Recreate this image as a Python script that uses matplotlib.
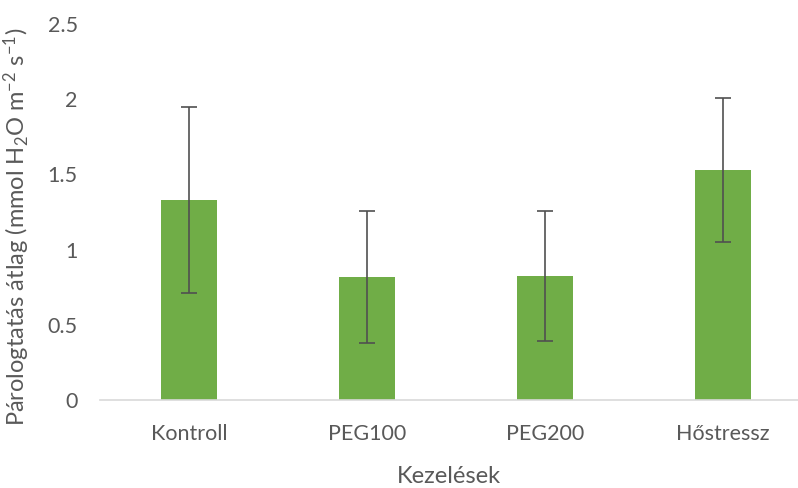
import matplotlib
matplotlib.use("Agg")
import matplotlib.pyplot as plt

# data
categories = ["Kontroll", "PEG100", "PEG200", "Hőstressz"]
means = [1.33, 0.82, 0.825, 1.53]
errors = [0.62, 0.44, 0.435, 0.48]

plt.rcParams["font.family"] = ["Lato", "DejaVu Sans"]
plt.rcParams["mathtext.fontset"] = "custom"
plt.rcParams["mathtext.rm"] = "Lato"
plt.rcParams["mathtext.it"] = "Lato"
plt.rcParams["mathtext.default"] = "regular"

text_col = "#595959"

fig = plt.figure(figsize=(7.98, 4.88), dpi=100)
ax = fig.add_axes([0.1253, 0.1803, 0.8747, 0.7705])

x = range(len(categories))
ax.bar(x, means, width=0.315, color="#70ad47", zorder=2)
ax.errorbar(x, means, yerr=errors, fmt="none", ecolor="#505050",
            elinewidth=1.2, capsize=6, capthick=1.2, zorder=3)

ax.set_xlim(-0.5, 3.42)
ax.set_ylim(0, 2.5)
ax.set_yticks([0, 0.5, 1, 1.5, 2, 2.5])
ax.set_yticklabels(["0", "0.5", "1", "1.5", "2", "2.5"])
ax.set_xticks(list(x))
ax.set_xticklabels(categories)

for s in ["top", "right", "left"]:
    ax.spines[s].set_visible(False)
ax.spines["bottom"].set_color("#d9d9d9")
ax.spines["bottom"].set_linewidth(1.2)
ax.tick_params(axis="both", length=0, labelsize=15.5, colors=text_col)
ax.tick_params(axis="y", pad=16)
ax.tick_params(axis="x", pad=17)

ax.set_xlabel("Kezelések", fontsize=17, color=text_col, labelpad=16)
ax.set_ylabel(r"Párologtatás átlag (mmol H$_2$O m$^{-2}$ s$^{-1}$)",
              fontsize=17, color=text_col)
ax.yaxis.set_label_coords(-0.097, 0.46)

fig.savefig("out.png", dpi=100)
